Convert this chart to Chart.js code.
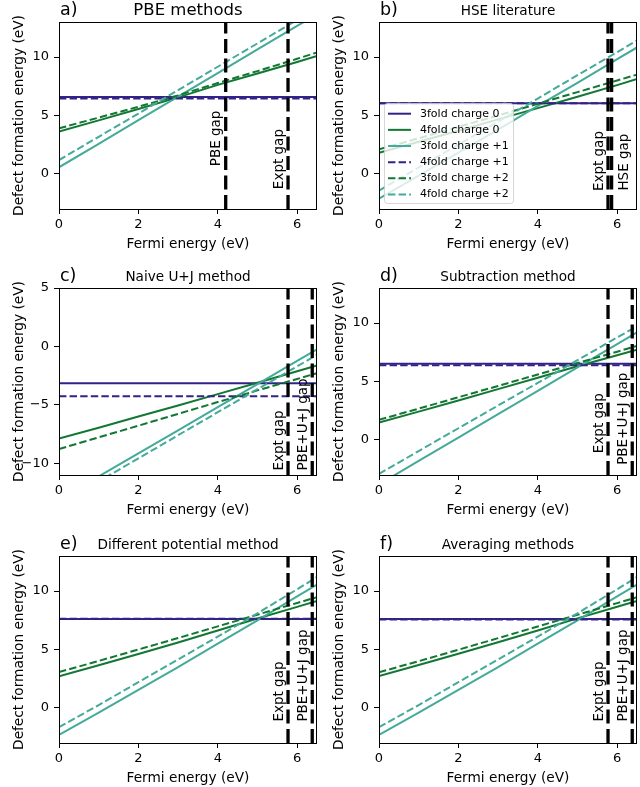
<!DOCTYPE html>
<html><head><meta charset="utf-8">
<script src="https://cdn.jsdelivr.net/npm/chart.js@4"></script>
<style>
html,body{margin:0;padding:0;background:#fff;overflow:hidden;}
#wrap{position:relative;width:640px;height:787px;}
.cell{position:absolute;width:320px;height:255px;}
</style></head><body><div id="wrap"></div>
<script>
// ---------- data ----------
const energies = [0, 1, 2, 3, 4, 5, 6, 6.5];
const seriesLabels = ['3fold charge 0','4fold charge 0','3fold charge +1','4fold charge +1','3fold charge +2','4fold charge +2'];
const xTicks = [0, 2, 4, 6];

// a) PBE methods
const a_3fold_q0 = [6.58,6.58,6.58,6.58,6.58,6.58,6.58,6.58];
const a_4fold_q0 = [3.63,4.58,5.55,6.55,7.62,8.6,9.58,10.1];
const a_3fold_q1 = [0.57,2.58,4.6,6.62,8.63,10.65,12.66,13.67];
const a_4fold_q1 = [6.46,6.46,6.46,6.46,6.46,6.46,6.46,6.46];
const a_3fold_q2 = [3.9,4.82,5.75,6.72,7.78,8.8,9.85,10.4];
const a_4fold_q2 = [1.19,3.18,5.17,7.17,9.17,11.17,13.17,14.17];
const a_gapNames = ['PBE gap','Expt gap'];
const a_gapValues = [4.2, 5.77];

// b) HSE literature
const b_3fold_q0 = [6.05,6.05,6.05,6.05,6.05,6.05,6.05,6.05];
const b_4fold_q0 = [1.8,2.75,3.7,4.67,5.63,6.6,7.6,8.13];
const b_3fold_q1 = [-2.12,-0.15,1.82,3.8,5.82,7.8,9.82,10.82];
const b_4fold_q1 = [6.05,6.05,6.05,6.05,6.05,6.05,6.05,6.05];
const b_3fold_q2 = [2.1,3.05,4.02,5.0,6.0,7.0,8.0,8.5];
const b_4fold_q2 = [-1.42,0.55,2.5,4.48,6.45,8.45,10.42,11.42];
const b_gapNames = ['Expt gap','HSE gap'];
const b_gapValues = [5.77, 5.86];

// c) Naive U+J method
const c_3fold_q0 = [-3.15,-3.15,-3.15,-3.15,-3.15,-3.15,-3.15,-3.15];
const c_4fold_q0 = [-7.87,-6.95,-6.0,-5.05,-4.08,-3.1,-2.12,-1.62];
const c_3fold_q1 = [-13.1,-11.12,-9.15,-7.18,-5.2,-3.22,-1.24,-0.25];
const c_4fold_q1 = [-4.26,-4.26,-4.26,-4.26,-4.26,-4.26,-4.26,-4.26];
const c_3fold_q2 = [-8.78,-7.78,-6.78,-5.77,-4.76,-3.76,-2.78,-2.28];
const c_4fold_q2 = [-13.52,-11.55,-9.58,-7.6,-5.63,-3.66,-1.7,-0.73];
const c_gapNames = ['Expt gap','PBE+U+J gap'];
const c_gapValues = [5.77, 6.38];

// d) Subtraction method
const d_3fold_q0 = [6.52,6.52,6.52,6.52,6.52,6.52,6.52,6.52];
const d_4fold_q0 = [1.48,2.42,3.38,4.35,5.32,6.3,7.25,7.73];
const d_3fold_q1 = [-3.8,-1.8,0.2,2.2,4.2,6.2,8.2,9.2];
const d_4fold_q1 = [6.38,6.38,6.38,6.38,6.38,6.38,6.38,6.38];
const d_3fold_q2 = [1.72,2.68,3.65,4.62,5.6,6.58,7.55,8.05];
const d_4fold_q2 = [-2.9,-0.95,1.0,2.95,4.88,6.82,8.77,9.72];
const d_gapNames = ['Expt gap','PBE+U+J gap'];
const d_gapValues = [5.77, 6.38];

// e) Different potential method
const e_3fold_q0 = [7.6,7.6,7.6,7.6,7.6,7.6,7.6,7.6];
const e_4fold_q0 = [2.7,3.65,4.62,5.6,6.62,7.65,8.65,9.15];
const e_3fold_q1 = [-2.3,-0.4,1.55,3.5,5.5,7.5,9.55,10.55];
const e_4fold_q1 = [7.64,7.64,7.64,7.64,7.64,7.64,7.64,7.64];
const e_3fold_q2 = [3.07,4.02,5.0,5.98,6.98,7.98,8.98,9.48];
const e_4fold_q2 = [-1.65,0.25,2.2,4.15,6.1,8.1,10.15,11.2];
const e_gapNames = ['Expt gap','PBE+U+J gap'];
const e_gapValues = [5.77, 6.38];

// f) Averaging methods
const f_3fold_q0 = [7.62,7.62,7.62,7.62,7.62,7.62,7.62,7.62];
const f_4fold_q0 = [2.72,3.67,4.64,5.62,6.63,7.66,8.66,9.16];
const f_3fold_q1 = [-2.3,-0.4,1.55,3.5,5.5,7.5,9.55,10.55];
const f_4fold_q1 = [7.57,7.57,7.57,7.57,7.57,7.57,7.57,7.57];
const f_3fold_q2 = [3.05,4.0,4.98,5.97,6.97,7.97,8.97,9.47];
const f_4fold_q2 = [-1.65,0.25,2.2,4.15,6.1,8.1,10.15,11.2];
const f_gapNames = ['Expt gap','PBE+U+J gap'];
const f_gapValues = [5.77, 6.38];

// ---------- styles / layout ----------
const FONT = "'DejaVu Sans', sans-serif";
const seriesColors = ['#332288','#117733','#44AA99','#332288','#117733','#44AA99'];
const seriesDash = [[],[],[],[7.4,3.2],[7.4,3.2],[7.4,3.2]];

const panels = [
  {letter:'a)', title:'PBE methods', titleSize:16.5, left:0, top:0, yMin:-3, yMax:13,
   series:[a_3fold_q0,a_4fold_q0,a_3fold_q1,a_4fold_q1,a_3fold_q2,a_4fold_q2],
   gapNames:a_gapNames, gapValues:a_gapValues, labelY:[0.66,-1.3], labelSide:['l','l']},
  {letter:'b)', title:'HSE literature', titleSize:13.6, left:320, top:0, yMin:-3, yMax:13, legend:true,
   series:[b_3fold_q0,b_4fold_q0,b_3fold_q1,b_4fold_q1,b_3fold_q2,b_4fold_q2],
   gapNames:b_gapNames, gapValues:b_gapValues, labelY:[-1.47,-1.42], labelSide:['l','r']},
  {letter:'c)', title:'Naive U+J method', titleSize:13.6, left:0, top:266, yMin:-11, yMax:5,
   series:[c_3fold_q0,c_4fold_q0,c_3fold_q1,c_4fold_q1,c_3fold_q2,c_4fold_q2],
   gapNames:c_gapNames, gapValues:c_gapValues, labelY:[-10.62,-10.62], labelSide:['l','l']},
  {letter:'d)', title:'Subtraction method', titleSize:13.6, left:320, top:266, yMin:-3, yMax:13,
   series:[d_3fold_q0,d_4fold_q0,d_3fold_q1,d_4fold_q1,d_3fold_q2,d_4fold_q2],
   gapNames:d_gapNames, gapValues:d_gapValues, labelY:[-1.13,-2.13], labelSide:['l','l']},
  {letter:'e)', title:'Different potential method', titleSize:13.6, left:0, top:534, yMin:-3, yMax:13,
   series:[e_3fold_q0,e_4fold_q0,e_3fold_q1,e_4fold_q1,e_3fold_q2,e_4fold_q2],
   gapNames:e_gapNames, gapValues:e_gapValues, labelY:[-1.17,-1.17], labelSide:['l','l']},
  {letter:'f)', title:'Averaging methods', titleSize:13.6, left:320, top:534, yMin:-3, yMax:13,
   series:[f_3fold_q0,f_4fold_q0,f_3fold_q1,f_4fold_q1,f_3fold_q2,f_4fold_q2],
   gapNames:f_gapNames, gapValues:f_gapValues, labelY:[-1.17,-1.17], labelSide:['l','l']}
];

Chart.defaults.color = '#000';
Chart.defaults.font.family = FONT;

const fmt = v => String(v).replace('-', '\u2212');

const decorPlugin = {
  id:'decor',
  afterDatasetsDraw(chart) {
    const p = chart.options.plugins.decor.panel;
    const ctx = chart.ctx, ca = chart.chartArea;
    const xs = chart.scales.x, ys = chart.scales.y;
    ctx.save();
    // frame
    ctx.strokeStyle = '#000'; ctx.lineWidth = 1;
    ctx.strokeRect(Math.round(ca.left)+0.5, Math.round(ca.top)+0.5, Math.round(ca.right-ca.left)-1, Math.round(ca.bottom-ca.top));
    // gap labels
    ctx.font = '13.5px ' + FONT; ctx.fillStyle = '#000';
    p.gapNames.forEach((name, i) => {
      const px = xs.getPixelForValue(p.gapValues[i]);
      const py = ys.getPixelForValue(p.labelY[i]);
      ctx.save();
      if (p.labelSide[i] === 'l') { ctx.translate(px - 2, py); ctx.textBaseline = 'bottom'; }
      else { ctx.translate(px + 6, py); ctx.textBaseline = 'top'; }
      ctx.rotate(-Math.PI/2); ctx.textAlign = 'left';
      ctx.fillText(name, 0, 0);
      ctx.restore();
    });
    // titles
    ctx.textBaseline = 'alphabetic';
    ctx.textAlign = 'left'; ctx.font = '17.5px ' + FONT;
    ctx.fillText(p.letter, ca.left + 1, ca.top - 7);
    ctx.textAlign = 'center'; ctx.font = p.titleSize + 'px ' + FONT;
    ctx.fillText(p.title, (ca.left + ca.right)/2, ca.top - 7);
    // legend
    if (p.legend) {
      const bx = ca.left + 5, bw = 129, bh = 100, by = ca.bottom - 6 - bh;
      ctx.beginPath();
      ctx.roundRect(bx + 0.5, by + 0.5, bw, bh, 3);
      ctx.fillStyle = 'rgba(255,255,255,0.8)'; ctx.fill();
      ctx.strokeStyle = 'rgba(204,204,204,0.8)'; ctx.lineWidth = 1; ctx.stroke();
      ctx.font = '11px ' + FONT; ctx.textAlign = 'left'; ctx.textBaseline = 'middle';
      for (let i = 0; i < 6; i++) {
        const ds = chart.data.datasets[i];
        const yy = by + 10.7 + i * 16.15;
        ctx.beginPath(); ctx.setLineDash(ds.borderDash || []);
        ctx.strokeStyle = ds.borderColor; ctx.lineWidth = ds.borderWidth;
        ctx.moveTo(bx + 4, yy); ctx.lineTo(bx + 27, yy); ctx.stroke();
        ctx.setLineDash([]);
        ctx.fillStyle = '#000';
        ctx.fillText(ds.label, bx + 36, yy);
      }
    }
    ctx.restore();
  }
};

const wrap = document.getElementById('wrap');
panels.forEach(p => {
  const div = document.createElement('div');
  div.className = 'cell';
  div.style.left = p.left + 'px'; div.style.top = p.top + 'px';
  const cv = document.createElement('canvas');
  cv.width = 320; cv.height = 255;
  cv.style.width = '320px'; cv.style.height = '255px';
  div.appendChild(cv); wrap.appendChild(div);

  const datasets = [];
  const nTotal = p.series.length + p.gapValues.length;
  p.series.forEach((vals, i) => {
    datasets.push({
      label: seriesLabels[i],
      data: energies.map((x, k) => ({x: x, y: vals[k]})),
      showLine: true, fill: false, pointRadius: 0, pointHoverRadius: 0,
      borderColor: seriesColors[i], backgroundColor: seriesColors[i],
      borderWidth: 2, borderDash: seriesDash[i], tension: 0, clip: 0,
      order: nTotal - i
    });
  });
  p.gapValues.forEach((g, j) => {
    datasets.push({
      label: p.gapNames[j],
      data: [{x: g, y: p.yMin}, {x: g, y: p.yMax}],
      showLine: true, fill: false, pointRadius: 0, pointHoverRadius: 0,
      borderColor: '#000', backgroundColor: '#000',
      borderWidth: 3.3, borderDash: [14, 5.5], tension: 0, clip: 0,
      order: nTotal - p.series.length - j
    });
  });

  new Chart(cv, {
    type: 'scatter',
    data: { datasets },
    options: {
      responsive: false, animation: false, devicePixelRatio: 1,
      events: [],
      layout: { padding: { top: 22, right: 3, left: 0, bottom: 0 } },
      plugins: { legend: { display: false }, tooltip: { enabled: false }, decor: { panel: p } },
      scales: {
        x: {
          type: 'linear', min: 0, max: 6.5,
          afterFit(s) { s.height = 46; },
          afterBuildTicks(s) { s.ticks = xTicks.map(v => ({value: v})); },
          ticks: { padding: 3, font: { size: 13 }, color: '#000', maxRotation: 0, autoSkip: false, callback: fmt },
          grid: { display: true, drawOnChartArea: false, drawTicks: true, tickLength: 5, color: '#000', lineWidth: 1 },
          border: { display: false },
          title: { display: true, text: 'Fermi energy (eV)', font: { size: 13.7 }, color: '#000', padding: { top: 0, bottom: 2 } }
        },
        y: {
          type: 'linear', min: p.yMin, max: p.yMax,
          afterFit(s) { s.width = 59; },
          ticks: { stepSize: 5, includeBounds: false, padding: 5, font: { size: 13 }, color: '#000', autoSkip: false, callback: fmt },
          grid: { display: true, drawOnChartArea: false, drawTicks: true, tickLength: 5, color: '#000', lineWidth: 1 },
          border: { display: false },
          title: { display: true, text: 'Defect formation energy (eV)', font: { size: 13.7 }, color: '#000', padding: { top: 11, bottom: 0 } }
        }
      }
    },
    plugins: [decorPlugin]
  });
});
</script>
</body></html>
